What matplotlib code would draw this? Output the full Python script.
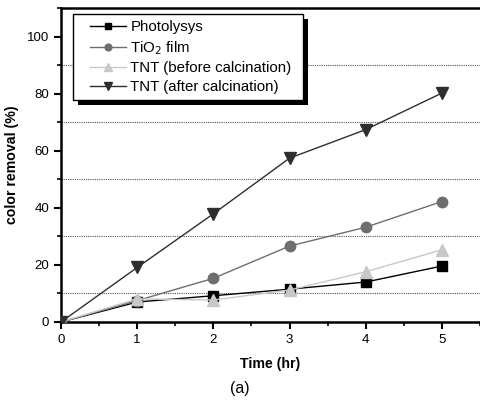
import matplotlib
matplotlib.use("Agg")
import matplotlib.pyplot as plt
from matplotlib.ticker import MultipleLocator
from matplotlib.patches import Rectangle

plt.rcParams['font.family'] = ['Liberation Sans', 'DejaVu Sans']

time_hr = [0, 1, 2, 3, 4, 5]
photolysys = [0, 7.0, 9.2, 11.5, 14.0, 19.6]
tio2_film = [0, 7.5, 15.3, 26.6, 33.2, 42.2]
tnt_before = [0, 8.1, 7.7, 11.2, 17.6, 25.3]
tnt_after = [0, 19.1, 37.9, 57.4, 67.4, 80.2]
labels = ['Photolysys', 'TiO$_2$ film', 'TNT (before calcination)', 'TNT (after calcination)']

fig = plt.figure(figsize=(4.8, 4.04), dpi=100)
ax = fig.add_axes([61/480, 1-322/404, 1-61/480, (322-8)/404])

for y in [10, 30, 50, 70, 90]:
    ax.axhline(y, color='#555555', lw=0.8, ls=(0, (1, 1)), zorder=0)

ax.plot(time_hr, photolysys, '-s', color='black', ms=7, lw=1.0, label=labels[0], zorder=3)
ax.plot(time_hr, tio2_film, '-o', color='#6e6e6e', ms=7.5, lw=1.0, label=labels[1], zorder=3)
ax.plot(time_hr, tnt_before, '-^', color='#c8c8c8', ms=8, lw=1.0, label=labels[2], zorder=3)
ax.plot(time_hr, tnt_after, '-v', color='#2e2e2e', ms=8.5, lw=1.0, label=labels[3], zorder=3)

ax.set_xlim(0, 5.5)
ax.set_ylim(0, 110)
ax.set_xticks([0, 1, 2, 3, 4, 5])
ax.set_yticks([0, 20, 40, 60, 80, 100])
ax.xaxis.set_minor_locator(MultipleLocator(0.5))
ax.yaxis.set_minor_locator(MultipleLocator(10))
ax.tick_params(which='major', direction='out', length=5, width=1.5, labelsize=9.5)
ax.tick_params(which='minor', direction='out', length=3, width=1.2)
for s in ['left', 'bottom', 'top']:
    ax.spines[s].set_linewidth(1.8)
ax.spines['right'].set_visible(False)

ax.set_xlabel('Time (hr)', fontsize=10.2, fontweight='bold', labelpad=8)
ax.set_ylabel('color removal (%)', fontsize=10.2, fontweight='bold', labelpad=6)

leg = ax.legend(loc='upper left', bbox_to_anchor=((84-61)/419, 1-6/314), fontsize=10.8,
                frameon=False, markerscale=0.65,
                handlelength=2.4, handletextpad=0.3, labelspacing=0.32,
                borderpad=0.4, borderaxespad=0)
leg.set_zorder(7)

fig.canvas.draw()
bb = leg.get_window_extent()
x0, y0, w, h = bb.x0 - 11, bb.y0, bb.width + 16, bb.height
shadow = Rectangle((x0 + 5, y0 - 5), w, h, transform=None,
                   facecolor='black', edgecolor='none', zorder=5.5, clip_on=False)
frame = Rectangle((x0, y0), w, h, transform=None,
                  facecolor='white', edgecolor='black', lw=1.0, zorder=6, clip_on=False)
ax.add_artist(shadow)
ax.add_artist(frame)

fig.text(0.5, 1-388/404, '(a)', ha='center', va='center', fontsize=11.5)

fig.savefig('out.png', dpi=100)
